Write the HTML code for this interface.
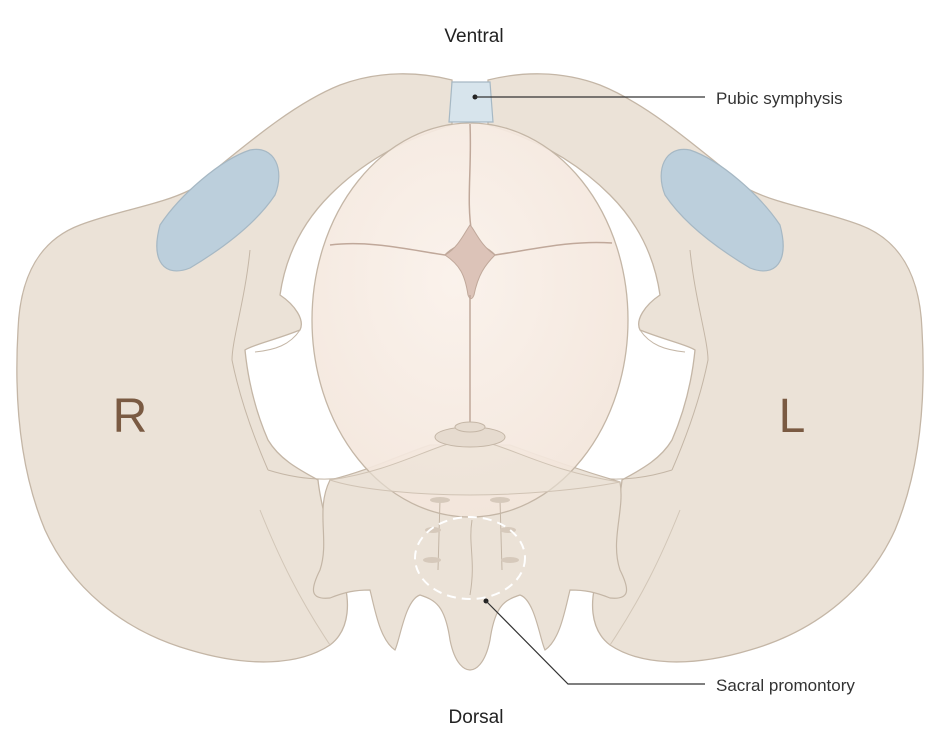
<!DOCTYPE html>
<html><head><style>
html,body{margin:0;padding:0;background:#fff;}
svg{display:block;}
text{font-family:"Liberation Sans",sans-serif;}
</style></head><body>
<svg width="940" height="735" viewBox="0 0 940 735" xmlns="http://www.w3.org/2000/svg">
<defs>
<radialGradient id="hd" cx="0.45" cy="0.4" r="0.7">
<stop offset="0" stop-color="#faf1ea"/><stop offset="1" stop-color="#f2e4d9"/>
</radialGradient>
<g id="half">
 <!-- ilium + pubic ramus -->
 <path d="M452,80 C420,72 380,70 340,85 C290,105 240,150 190,190 C160,205 120,210 80,225 C40,240 20,275 18,330 C14,400 20,470 45,530 C70,585 120,630 190,650 C250,668 300,665 330,645 C350,630 352,600 340,570 C330,540 320,500 318,480 C300,470 280,460 268,440 C255,410 248,380 245,350 C252,345 275,340 300,330 C305,320 295,305 280,295 C285,260 300,225 330,195 C360,165 400,140 452,125 Z" fill="#ebe2d7" stroke="#c4b6a6" stroke-width="1.3"/>
 <!-- obturator/blue -->
 <path d="M160,225 C180,195 220,160 250,150 C275,145 285,170 275,195 C255,225 220,250 190,268 C165,278 150,262 160,225 Z" fill="#bccfdc" stroke="#a6b8c4" stroke-width="1.2"/>
 <!-- inner details -->
 <path d="M250,250 C245,300 232,340 232,360 C240,400 255,440 268,470" fill="none" stroke="#c4b6a6" stroke-width="1"/>
 <path d="M330,645 C300,600 280,560 260,510" fill="none" stroke="#d2c6b7" stroke-width="1"/>
 <path d="M300,330 C290,345 275,350 255,352" fill="none" stroke="#c4b6a6" stroke-width="1"/>
 <path d="M268,470 C300,480 330,482 360,475" fill="none" stroke="#c4b6a6" stroke-width="1"/>
</g>
</defs>

<use href="#half"/>
<use href="#half" transform="translate(940,0) scale(-1,1)"/>

<!-- sacrum -->
<path d="M330,480 C370,470 400,455 430,445 L510,445 C545,458 580,470 620,482 C625,510 610,540 620,570 C630,590 630,600 610,598 C595,592 585,590 570,590 C565,610 560,640 545,650 C540,640 535,600 520,595 C505,600 495,605 490,640 C485,665 475,670 470,670 C465,670 455,665 450,640 C445,605 435,600 420,595 C405,600 400,640 395,650 C380,640 375,610 370,590 C355,590 345,592 330,598 C310,600 310,590 320,570 C330,540 315,510 330,480 Z" fill="#ebe2d7" stroke="#c4b6a6" stroke-width="1.2"/>

<!-- fetal head -->
<ellipse cx="470" cy="320" rx="158" ry="197" fill="url(#hd)" fill-opacity="0.92" stroke="#c4b6a6" stroke-width="1.3"/>
<!-- sutures -->
<path d="M470,124 C472,170 466,200 472,235" fill="none" stroke="#c0a89a" stroke-width="1.5"/>
<path d="M330,245 C370,240 410,250 445,255 C460,240 480,240 495,255 C530,250 570,240 612,243" fill="none" stroke="#c0a89a" stroke-width="1.5"/>
<path d="M445,255 C460,265 465,275 468,295 C470,300 472,300 474,295 C478,275 485,265 495,255 C480,245 475,230 470,225 C465,232 458,248 445,255 Z" fill="#dcc3b8" stroke="#c0a89a" stroke-width="1"/>
<path d="M470,295 L470,430" stroke="#c0a89a" stroke-width="1.5"/>
<!-- overlaid sacral base -->
<path d="M330,480 C400,470 440,440 470,440 C500,440 540,470 620,482 C580,490 520,495 470,495 C420,495 360,490 330,480 Z" fill="#ebe2d7" fill-opacity="0.6" stroke="#d0c3b4" stroke-width="1"/>
<ellipse cx="470" cy="437" rx="35" ry="10" fill="#e6dbcf" stroke="#c4b6a6" stroke-width="1"/>
<ellipse cx="470" cy="427" rx="15" ry="5" fill="#e6dbcf" stroke="#c4b6a6" stroke-width="1"/>
<path d="M440,500 L438,570 M500,500 L502,570" stroke="#c4b6a6" stroke-width="1"/>
<ellipse cx="440" cy="500" rx="10" ry="3" fill="#d6c9bb"/><ellipse cx="500" cy="500" rx="10" ry="3" fill="#d6c9bb"/>
<ellipse cx="433" cy="530" rx="8" ry="3" fill="#d6c9bb"/><ellipse cx="508" cy="530" rx="8" ry="3" fill="#d6c9bb"/>
<ellipse cx="432" cy="560" rx="9" ry="3" fill="#d6c9bb"/><ellipse cx="510" cy="560" rx="9" ry="3" fill="#d6c9bb"/>
<path d="M472,520 C468,545 476,560 470,595" fill="none" stroke="#c4b6a6" stroke-width="1"/>
<ellipse cx="470" cy="558" rx="55" ry="41" fill="none" stroke="#fff" stroke-width="2" stroke-dasharray="9,6"/>

<!-- pubic symphysis -->
<path d="M452,82 L490,82 L493,122 L449,122 Z" fill="#d7e4ec" stroke="#a6b8c4" stroke-width="1.2"/>

<!-- leaders -->
<circle cx="475" cy="97" r="2.5" fill="#222"/>
<line x1="475" y1="97" x2="705" y2="97" stroke="#333" stroke-width="1.2"/>
<circle cx="486" cy="601" r="2.5" fill="#222"/>
<polyline points="486,601 568,684 705,684" fill="none" stroke="#333" stroke-width="1.2"/>

<text x="474" y="42" font-size="19" text-anchor="middle" fill="#222">Ventral</text>
<text x="476" y="723" font-size="19" text-anchor="middle" fill="#222">Dorsal</text>
<text x="716" y="104" font-size="17" fill="#333">Pubic symphysis</text>
<text x="716" y="691" font-size="17" fill="#333">Sacral promontory</text>
<text x="130" y="432" font-size="48" text-anchor="middle" fill="#7a5a42">R</text>
<text x="792" y="432" font-size="48" text-anchor="middle" fill="#7a5a42">L</text>
</svg>
</body></html>
